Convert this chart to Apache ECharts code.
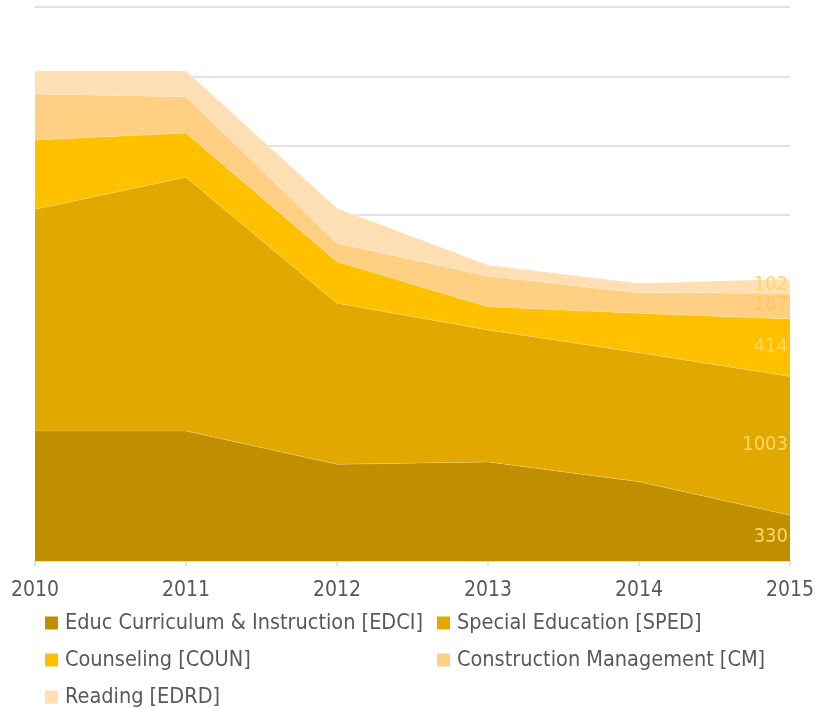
<!DOCTYPE html>
<html>
<head>
<meta charset="utf-8">
<script src="https://cdn.jsdelivr.net/npm/echarts@6/dist/echarts.min.js"></script>
<style>
  html, body { margin: 0; padding: 0; background: #fff; }
  #chart { width: 828px; height: 709px; }
</style>
</head>
<body>
<div id="chart"></div>
<script>
var years = ['2010', '2011', '2012', '2013', '2014', '2015'];

var edci = [939, 939, 698, 715, 573, 330];
var sped = [1600, 1831, 1163, 953, 931, 1003];
var coun = [501, 320, 300, 168, 284, 414];
var cm = [332, 262, 133, 222, 149, 187];
var edrd = [166, 186, 253, 79, 68, 102];

var names = [
  'Educ Curriculum & Instruction [EDCI]',
  'Special Education [SPED]',
  'Counseling [COUN]',
  'Construction Management [CM]',
  'Reading [EDRD]'
];
var colors = ['#BF8F00', '#E1A900', '#FFC000', '#FFD083', '#FFDFB3'];
var values = [edci, sped, coun, cm, edrd];

var font = '"Liberation Sans Narrow", "DejaVu Sans Condensed", sans-serif';
var last = years.length - 1;

// legend slots: left, top
var legendPos = [[40, 607], [432, 607], [40, 644], [432, 644], [40, 681]];

var chart = echarts.init(document.getElementById('chart'));

var series = values.map(function (v, i) {
  return {
    name: names[i],
    type: 'line',
    stack: 'total',
    data: v,
    symbol: 'circle',
    symbolSize: 0,
    showSymbol: true,
    lineStyle: { width: 0.6, color: 'rgba(255,255,255,0.35)' },
    itemStyle: { color: colors[i] },
    areaStyle: { color: colors[i], opacity: 1 },
    label: {
      show: true,
      position: 'left',
      distance: 2,
      color: i === 3 ? '#FFC75A' : '#FFD762',
      fontFamily: font,
      fontSize: 20,
      formatter: function (p) { return p.dataIndex === last ? String(p.value) : ''; }
    },
    emphasis: { disabled: true },
    z: 2
  };
});

var legends = names.map(function (n, i) {
  return {
    data: [n],
    left: legendPos[i][0],
    top: legendPos[i][1],
    itemWidth: 13,
    itemHeight: 13,
    icon: 'rect',
    selectedMode: false,
    textStyle: { color: '#595959', fontFamily: font, fontSize: 21.5, lineHeight: 22, padding: [0, 0, 0, 2] }
  };
});

option = {
  animation: false,
  color: colors,
  grid: { left: 35, right: 38, top: 7, bottom: 148 },
  xAxis: {
    type: 'category',
    boundaryGap: false,
    data: years,
    axisLine: { lineStyle: { color: '#D9D9D9', width: 1.5 } },
    axisTick: { show: true, length: 5, lineStyle: { color: '#D9D9D9', width: 1.5 } },
    axisLabel: { color: '#595959', fontFamily: font, fontSize: 21, margin: 19 }
  },
  yAxis: {
    type: 'value',
    min: 0,
    max: 4000,
    interval: 500,
    axisLabel: { show: false },
    axisLine: { show: false },
    axisTick: { show: false },
    splitLine: { lineStyle: { color: '#D9D9D9', width: 1.5 } }
  },
  legend: legends,
  series: series
};

chart.setOption(option, true);

// shift each end label down to the middle of its band
var cum = 0;
var offsets = values.map(function (v) {
  var bottom = chart.convertToPixel({ yAxisIndex: 0 }, cum);
  cum += v[last];
  var top = chart.convertToPixel({ yAxisIndex: 0 }, cum);
  return (bottom - top) / 2 - 1;
});
chart.setOption({
  series: offsets.map(function (d) { return { label: { offset: [0, d] } }; })
});
</script>
</body>
</html>
